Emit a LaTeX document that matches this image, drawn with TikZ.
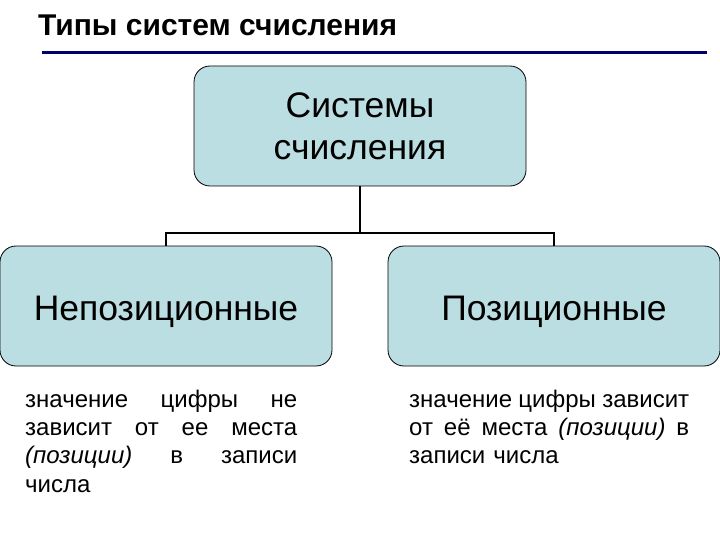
\documentclass[tikz,border=0pt]{standalone}
\usepackage{fontspec}
\setmainfont{Liberation Sans}
\definecolor{boxfill}{RGB}{187,222,226}
\definecolor{navy}{RGB}{0,0,110}
\newcommand{\jline}[1]{\par\noindent\hbox to \hsize{#1}\par}
\begin{document}
\begin{tikzpicture}[x=1pt,y=-1pt,
  catbox/.style={draw=black,line width=0.8pt,fill=boxfill,rounded corners=16pt,
    minimum width=332pt,minimum height=120pt,align=center,inner sep=0pt,
    font=\fontsize{35.5}{42}\selectfont},
  lowbox/.style={catbox,text height=30pt,text depth=2pt},
  link/.style={draw=black,line width=2pt},
  para/.style={anchor=north west,inner sep=0pt,align=left,
    font=\fontsize{24}{28.2}\selectfont}]
\useasboundingbox (0,0) rectangle (720,540);
\fill[white] (0,0) rectangle (720,540);
\node[anchor=base west,inner sep=0pt,font=\fontsize{30}{34}\selectfont\bfseries] (title) at (38,36) {Типы систем счисления};
\coordinate (rl) at (42,53);
\coordinate (rr) at (707,53);
\draw[navy,line width=3pt] (rl) -- (rr);
\node[catbox] (top) at (360,126) {Системы\\счисления};
\node[lowbox] (left) at (166,306) {Непозиционные};
\node[lowbox] (right) at (554,306) {Позиционные};
\coordinate (bus) at (360,233);
\draw[link] (top.south) -- (top.south |- bus);
\draw[link] (left.north) -- (left.north |- bus) -- (right.north |- bus) -- (right.north);
\node[para,text width=272pt] (ltxt) at (25,379) {%
\jline{значение\hfil цифры\hfil не}%
\jline{зависит\hfil от\hfil ее\hfil места}%
\jline{\textit{(позиции)}\hfil в\hfil записи}%
\jline{числа\hfill}};
\node[para,text width=280pt] (rtxt) at (409,379) {%
\jline{значение\hfil цифры\hfil зависит}%
\jline{от\hfil её\hfil места\hfil \textit{(позиции)}\hfil в}%
\jline{записи числа\hfill}};
\end{tikzpicture}
\end{document}
